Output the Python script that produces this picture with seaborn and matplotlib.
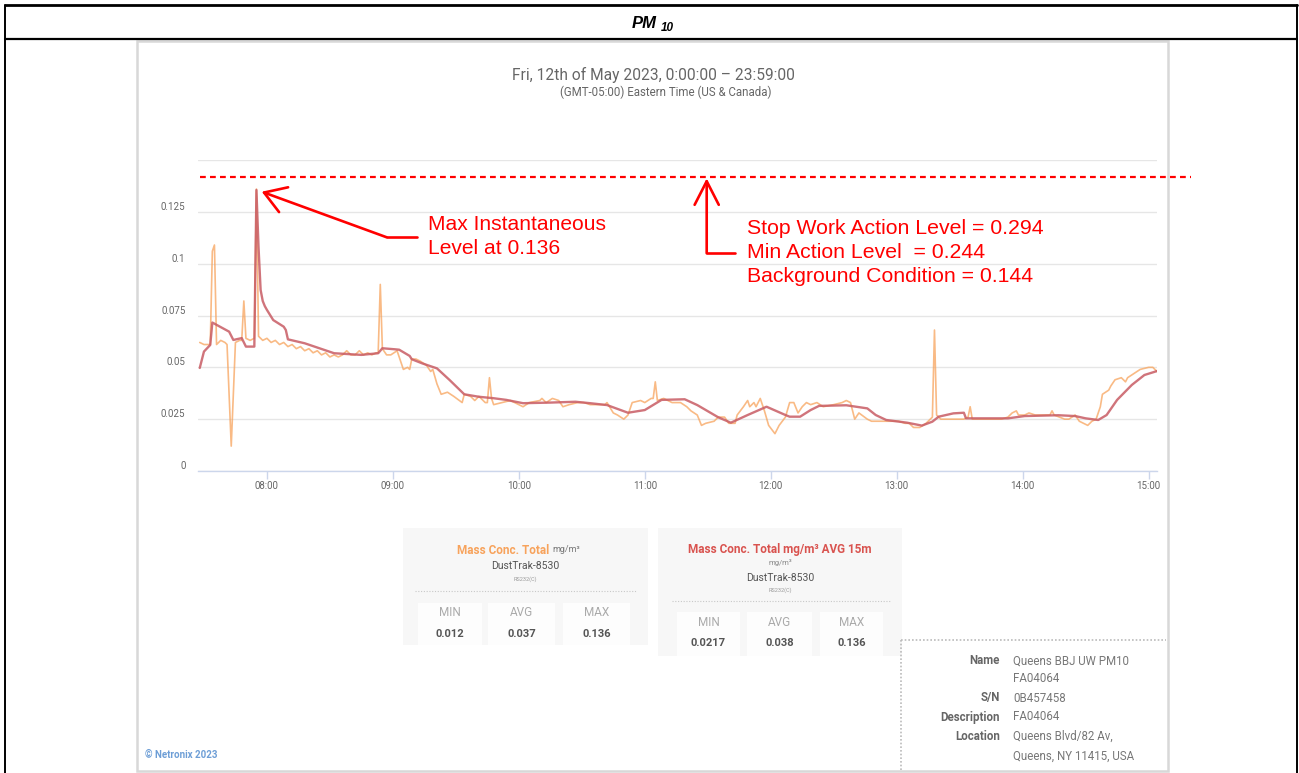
import matplotlib
matplotlib.use("Agg")
import matplotlib.pyplot as plt
import matplotlib.dates as mdates
from matplotlib.lines import Line2D
from matplotlib.patches import Rectangle, FancyArrowPatch
from matplotlib.transforms import ScaledTranslation
import pandas as pd
import seaborn as sns

W, H = 1299, 773
DAY = "2023-05-12 "

# Mass Conc. Total (raw, mg/m3)
raw_times = [
    "07:28", "07:30", "07:33", "07:34", "07:35", "07:36", "07:38", "07:40", "07:41", "07:43",
    "07:45", "07:47", "07:48", "07:49", "07:50", "07:52", "07:54", "07:55", "07:56", "07:58",
    "08:00", "08:02", "08:04", "08:06", "08:08", "08:10", "08:12", "08:14", "08:16", "08:18",
    "08:20", "08:22", "08:24", "08:26", "08:28", "08:30", "08:32", "08:34", "08:36", "08:38",
    "08:40", "08:42", "08:44", "08:46", "08:48", "08:50", "08:52", "08:53", "08:54", "08:55",
    "08:57", "08:59", "09:02", "09:05", "09:07", "09:08", "09:09", "09:11", "09:13", "09:16",
    "09:18", "09:19", "09:21", "09:23", "09:26", "09:29", "09:33", "09:34", "09:37", "09:39",
    "09:41", "09:44", "09:45", "09:46", "09:47", "09:48", "09:52", "09:56", "10:00", "10:02",
    "10:05", "10:10", "10:11", "10:13", "10:16", "10:19", "10:21", "10:24", "10:28", "10:31",
    "10:34", "10:36", "10:41", "10:42", "10:45", "10:47", "10:50", "10:52", "10:54", "10:58",
    "11:00", "11:03", "11:04", "11:05", "11:06", "11:09", "11:13", "11:17", "11:20", "11:22",
    "11:25", "11:27", "11:29", "11:33", "11:35", "11:38", "11:40", "11:43", "11:44", "11:47",
    "11:49", "11:50", "11:52", "11:53", "11:55", "11:57", "11:59", "12:02", "12:04", "12:07",
    "12:09", "12:11", "12:13", "12:15", "12:17", "12:19", "12:22", "12:25", "12:30", "12:34",
    "12:36", "12:38", "12:40", "12:42", "12:46", "12:48", "12:52", "12:55", "13:01", "13:04",
    "13:06", "13:08", "13:11", "13:14", "13:16", "13:17", "13:18", "13:19", "13:21", "13:27",
    "13:32", "13:34", "13:35", "13:36", "13:40", "13:44", "13:47", "13:50", "13:53", "13:55",
    "13:57", "13:58", "14:01", "14:03", "14:06", "14:13", "14:14", "14:15", "14:20", "14:22",
    "14:25", "14:27", "14:29", "14:31", "14:33", "14:35", "14:37", "14:38", "14:41", "14:42",
    "14:44", "14:47", "14:49", "14:50", "14:53", "14:56", "15:00", "15:01", "15:02", "15:04",
]
raw_values = [
    0.062, 0.061, 0.061, 0.106, 0.109, 0.061, 0.063, 0.062, 0.061, 0.012,
    0.062, 0.063, 0.063, 0.082, 0.064, 0.063, 0.064, 0.136, 0.065, 0.063,
    0.064, 0.062, 0.063, 0.061, 0.062, 0.060, 0.061, 0.059, 0.060, 0.058,
    0.059, 0.057, 0.058, 0.056, 0.057, 0.055, 0.056, 0.055, 0.056, 0.058,
    0.056, 0.056, 0.058, 0.056, 0.057, 0.056, 0.057, 0.057, 0.090, 0.059,
    0.056, 0.056, 0.058, 0.049, 0.050, 0.049, 0.054, 0.054, 0.053, 0.051,
    0.048, 0.049, 0.042, 0.037, 0.038, 0.036, 0.033, 0.037, 0.036, 0.034,
    0.036, 0.033, 0.033, 0.045, 0.035, 0.032, 0.033, 0.034, 0.032, 0.031,
    0.033, 0.034, 0.035, 0.033, 0.035, 0.034, 0.031, 0.032, 0.033, 0.033,
    0.032, 0.032, 0.032, 0.033, 0.028, 0.027, 0.025, 0.027, 0.033, 0.034,
    0.033, 0.035, 0.035, 0.043, 0.034, 0.035, 0.033, 0.033, 0.031, 0.029,
    0.027, 0.022, 0.023, 0.024, 0.026, 0.026, 0.023, 0.023, 0.027, 0.031,
    0.034, 0.031, 0.033, 0.031, 0.035, 0.029, 0.022, 0.018, 0.022, 0.026,
    0.033, 0.033, 0.028, 0.031, 0.033, 0.032, 0.033, 0.031, 0.032, 0.033,
    0.034, 0.033, 0.025, 0.028, 0.025, 0.024, 0.024, 0.024, 0.024, 0.023,
    0.023, 0.021, 0.021, 0.023, 0.025, 0.026, 0.068, 0.027, 0.025, 0.025,
    0.025, 0.026, 0.031, 0.025, 0.025, 0.025, 0.025, 0.025, 0.026, 0.028,
    0.029, 0.027, 0.027, 0.028, 0.027, 0.027, 0.029, 0.027, 0.025, 0.025,
    0.027, 0.024, 0.023, 0.022, 0.024, 0.025, 0.031, 0.037, 0.039, 0.041,
    0.044, 0.045, 0.043, 0.045, 0.047, 0.049, 0.050, 0.050, 0.050, 0.048,
]

# Mass Conc. Total AVG 15m
avg_times = [
    "07:28", "07:30", "07:33", "07:34", "07:42", "07:44", "07:48", "07:50", "07:54", "07:55",
    "07:56", "07:57", "07:58", "07:59", "08:00", "08:03", "08:08", "08:09", "08:10", "08:18",
    "08:32", "08:45", "08:53", "08:55", "09:01", "09:03", "09:08", "09:09", "09:14", "09:21",
    "09:27", "09:34", "09:41", "09:48", "09:54", "10:02", "10:15", "10:27", "10:34", "10:42",
    "10:52", "11:00", "11:08", "11:19", "11:25", "11:35", "11:41", "11:49", "11:58", "12:07",
    "12:09", "12:14", "12:19", "12:23", "12:36", "12:46", "12:50", "12:55", "13:05", "13:12",
    "13:17", "13:20", "13:27", "13:32", "13:33", "13:40", "13:53", "14:01", "14:17", "14:25",
    "14:30", "14:36", "14:40", "14:45", "14:52", "14:58", "15:04",
]
avg_values = [
    0.0497, 0.0576, 0.0608, 0.0716, 0.0672, 0.0632, 0.0641, 0.0600, 0.0600, 0.1355,
    0.1080, 0.0873, 0.0820, 0.0795, 0.0777, 0.0728, 0.0696, 0.0680, 0.0635, 0.0616,
    0.0568, 0.0560, 0.0568, 0.0592, 0.0587, 0.0585, 0.0555, 0.0539, 0.0519, 0.0495,
    0.0439, 0.0370, 0.0358, 0.0351, 0.0343, 0.0327, 0.0330, 0.0334, 0.0327, 0.0318,
    0.0281, 0.0294, 0.0343, 0.0346, 0.0318, 0.0259, 0.0233, 0.0270, 0.0310, 0.0270,
    0.0262, 0.0262, 0.0294, 0.0314, 0.0317, 0.0302, 0.0270, 0.0246, 0.0233, 0.0219,
    0.0238, 0.0262, 0.0278, 0.0281, 0.0254, 0.0254, 0.0254, 0.0265, 0.0269, 0.0265,
    0.0254, 0.0246, 0.0270, 0.0343, 0.0415, 0.0463, 0.0482,
]

y_ticks = [0, 0.025, 0.05, 0.075, 0.1, 0.125, 0.15]
y_tick_labels = ["0", "0.025", "0.05", "0.075", "0.1", "0.125", ""]
x_start, x_end = "07:27:10", "15:04:00"
dashed_level = 0.142

stats_raw = [("MIN", "0.012"), ("AVG", "0.037"), ("MAX", "0.136")]
stats_avg = [("MIN", "0.0217"), ("AVG", "0.038"), ("MAX", "0.136")]
info_rows = [("Name", "Queens BBJ UW PM10"), ("", "FA04064"), ("S/N", "0B457458"),
             ("Description", "FA04064"), ("Location", "Queens Blvd/82 Av,"),
             ("", "Queens, NY 11415, USA")]
limit_lines = ["Stop Work Action Level = 0.294", "Min Action Level  = 0.244",
               "Background Condition = 0.144"]
max_lines = ["Max Instantaneous", "Level at 0.136"]

ORANGE = "#f7a35c"
ROSE = "#c85c64"
GREY = "#666666"
RED = "#ff0000"

sns.set_theme(style="white")
plt.rcParams["font.family"] = ["Roboto", "DejaVu Sans"]

fig = plt.figure(figsize=(W / 100, H / 100), dpi=100)
fig.patch.set_facecolor("white")


def fx(x):
    return x / W


def fy(y):
    return 1 - y / H


def line(xs, ys, **kw):
    fig.add_artist(Line2D([fx(v) for v in xs], [fy(v) for v in ys],
                          transform=fig.transFigure, **kw))


def box(x0, y0, x1, y1, **kw):
    fig.add_artist(Rectangle((fx(x0), fy(y1)), fx(x1) - fx(x0), fy(y0) - fy(y1),
                             transform=fig.transFigure, **kw))


def txt(x, y, s, **kw):
    kw.setdefault("ha", "center")
    kw.setdefault("va", "center")
    fig.text(fx(x), fy(y), s, **kw)


def arrow(p0, p1, hl, hw):
    fig.add_artist(FancyArrowPatch((fx(p0[0]), fy(p0[1])), (fx(p1[0]), fy(p1[1])),
                                   transform=fig.transFigure, color=RED, lw=1.9,
                                   arrowstyle=f"->,head_length={hl},head_width={hw}",
                                   mutation_scale=10, shrinkA=0, shrinkB=0))


# outer table frame
line([5, 1297], [5, 5], color="black", lw=2)
line([5, 1297], [39, 39], color="black", lw=1.6)
line([5, 5], [5, 773], color="black", lw=1.4)
line([1297, 1297], [5, 773], color="black", lw=1.4)
txt(644, 24, "PM", family=["Liberation Sans"], fontweight="bold", style="italic",
    fontsize=12, color="black")
txt(667, 28, "10", family=["Liberation Sans"], fontweight="bold", style="italic",
    fontsize=8.5, color="black")

# dashboard card
box(137, 41, 1168, 771, facecolor="white", edgecolor="#d8d8d8", lw=1.8, zorder=-5)
txt(653, 75, "Fri, 12th of May 2023, 0:00:00 \u2013 23:59:00", fontsize=11.2, color=GREY)
txt(666, 92, "(GMT-05:00) Eastern Time (US & Canada)", fontsize=8.3, color=GREY)

# chart
ax = fig.add_axes([fx(198), fy(471), fx(1157) - fx(198), fy(160) - fy(471)])
ax.set_facecolor("none")
raw_df = pd.DataFrame({"time": pd.to_datetime([DAY + t for t in raw_times]), "value": raw_values})
avg_df = pd.DataFrame({"time": pd.to_datetime([DAY + t for t in avg_times]), "value": avg_values})
sns.lineplot(data=raw_df, x="time", y="value", ax=ax, color=ORANGE, lw=1.2, alpha=0.75,
             estimator=None, sort=False)
sns.lineplot(data=avg_df, x="time", y="value", ax=ax, color=ROSE, lw=1.7, alpha=0.85,
             estimator=None, sort=False)
ax.set_xlabel("")
ax.set_ylabel("")
ax.set_ylim(0, 0.15)
ax.set_xlim(pd.Timestamp(DAY + x_start), pd.Timestamp(DAY + x_end))
ax.set_yticks(y_ticks)
ax.set_yticklabels(y_tick_labels)
ax.xaxis.set_major_locator(mdates.HourLocator())
ax.xaxis.set_major_formatter(mdates.DateFormatter("%H:%M"))
ax.grid(axis="y", color="#e6e6e6", lw=1)
ax.grid(axis="x", visible=False)
ax.set_axisbelow(True)
sns.despine(ax=ax, left=True)
ax.spines["bottom"].set_color("#ccd6eb")
ax.spines["bottom"].set_linewidth(1)
ax.tick_params(axis="x", bottom=True, length=6, width=1, color="#ccd6eb",
               labelsize=7, labelcolor=GREY, pad=1.5)
ax.tick_params(axis="y", length=0, labelsize=7, labelcolor=GREY, pad=9)
for lab in ax.get_yticklabels():
    lab.set_transform(lab.get_transform() + ScaledTranslation(0, 0.06, fig.dpi_scale_trans))

# red annotations
ax.axhline(dashed_level, xmin=0.002, xmax=1.035, clip_on=False, color=RED, lw=1.6,
           linestyle=(0, (2.6, 1.9)))
line([416.7, 386.7], [237.3, 237.3], color=RED, lw=1.9)
arrow((386.7, 237.3), (261.7, 191.7), 1.5, 0.95)
line([735, 706.7], [253.3, 253.3], color=RED, lw=1.9)
arrow((706.7, 253.3), (706.7, 178.3), 1.7, 0.87)
for i, s in enumerate(max_lines):
    txt(428, 225 + 24 * i, s, ha="left", family=["Liberation Sans"], fontsize=15.1, color=RED)
for i, s in enumerate(limit_lines):
    txt(747, 228 + 24.5 * i, s, ha="left", family=["Liberation Sans"], fontsize=15.3, color=RED)

# stats panels
box(403, 528, 648, 645, facecolor="#f7f7f7", edgecolor="none")
txt(549, 550, "Mass Conc. Total", ha="right", fontsize=8.5, fontweight="bold", color=ORANGE)
txt(552, 550, "mg/m\u00b3", ha="left", fontsize=6.5, color="#777777")
txt(525, 566, "DustTrak-8530", fontsize=7.5, color="#555555")
txt(525, 579, "RS232(C)", fontsize=4, color="#999999")
line([415, 637], [591, 591], color="#c8c8c8", lw=0.8, linestyle=(0, (1, 1.5)))
for (lab, val), (x0, x1) in zip(stats_raw, [(418, 482), (488, 555), (563, 630)]):
    box(x0, 603, x1, 645, facecolor="#fdfdfd", edgecolor="none")
    txt((x0 + x1) / 2, 613, lab, fontsize=8.5, color="#aaaaaa")
    txt((x0 + x1) / 2, 634, val, fontsize=8, fontweight="bold", color="#555555")

box(658, 528, 902, 656, facecolor="#f7f7f7", edgecolor="none")
txt(780, 550, "Mass Conc. Total mg/m\u00b3 AVG 15m", fontsize=8.5, fontweight="bold",
    color="#d9534f")
txt(780, 562, "mg/m\u00b3", fontsize=5.5, color="#888888")
txt(780, 578, "DustTrak-8530", fontsize=7.5, color="#555555")
txt(780, 590, "RS232(C)", fontsize=4, color="#999999")
line([672, 890], [601, 601], color="#c8c8c8", lw=0.8, linestyle=(0, (1, 1.5)))
for (lab, val), (x0, x1) in zip(stats_avg, [(677, 740), (747, 812), (820, 883)]):
    box(x0, 612, x1, 656, facecolor="#fdfdfd", edgecolor="none")
    txt((x0 + x1) / 2, 623, lab, fontsize=8.5, color="#aaaaaa")
    txt((x0 + x1) / 2, 643, val, fontsize=8, fontweight="bold", color="#555555")

# device info
line([901, 1166], [640, 640], color="#bbbbbb", lw=1.2, linestyle=(0, (1, 1.2)))
line([901, 901], [640, 771], color="#bbbbbb", lw=1.2, linestyle=(0, (1, 1.2)))
for (lab, val), y in zip(info_rows, [661, 679, 698, 717, 736, 756]):
    if lab:
        txt(1000, y, lab, ha="right", fontsize=8.3, fontweight="bold", color=GREY)
    txt(1013, y, val, ha="left", fontsize=8.3, color="#777777")

txt(145, 755, "\u00a9 Netronix 2023", ha="left", fontsize=7, fontweight="bold", color="#6d9ed6")

fig.savefig("out.png", dpi=100)
